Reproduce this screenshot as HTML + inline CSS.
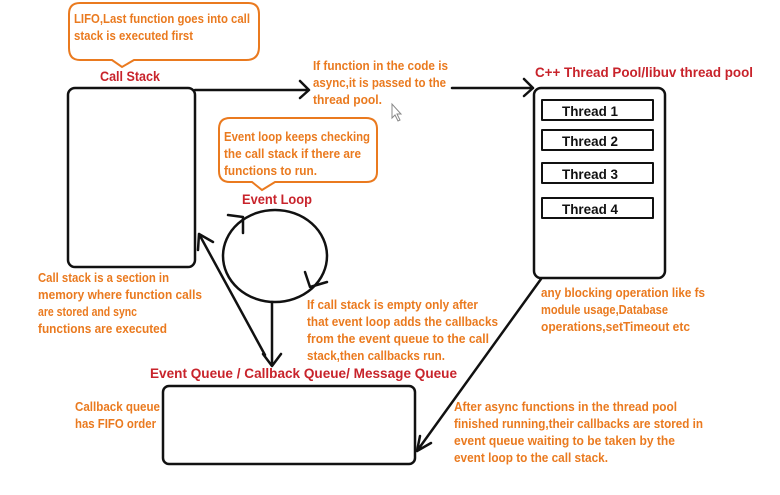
<!DOCTYPE html>
<html><head><meta charset="utf-8"><style>
html,body{margin:0;padding:0;background:#fff;}
svg{display:block;}
text{font-family:"Liberation Sans",sans-serif;font-weight:bold;}
.o{fill:#ea7a1f;font-size:12.5px;}
.r{fill:#c8232b;font-size:14px;}
.k{fill:#111;font-size:14px;}
</style></head><body>
<svg width="780" height="495" viewBox="0 0 780 495" xmlns="http://www.w3.org/2000/svg">
<g fill="none" stroke="#ea7a1f" stroke-width="2">
<path d="M80,3 H248 Q259,3 259,14 V47 Q259,60 246,60 H134 L122,67 L112,60 H80 Q69,60 69,48 V14 Q69,3 80,3 Z"/>
<path d="M230,118 H366 Q377,118 377,129 V172 Q377,182 366,182 H275 L262,190 L252,182 H230 Q219,182 219,171 V129 Q219,118 230,118 Z"/>
</g>
<g fill="none" stroke="#111" stroke-width="2.5" stroke-linecap="round" stroke-linejoin="round">
<rect x="68" y="88" width="127" height="179" rx="7"/>
<rect x="534" y="88" width="131" height="190" rx="7"/>
<rect x="542" y="100" width="111" height="20" stroke-width="2"/>
<rect x="542" y="130" width="111" height="20" stroke-width="2"/>
<rect x="542" y="163" width="111" height="20" stroke-width="2"/>
<rect x="542" y="198" width="111" height="20" stroke-width="2"/>
<rect x="163" y="386" width="252" height="78" rx="6"/>
<path d="M195,90 H308 M300,81 L309,90 L300,98"/>
<path d="M452,88 H533 M524,79 L533,88 L524,96"/>
<ellipse cx="275" cy="256" rx="52" ry="46"/>
<path d="M228,215 L243,217 L243,233"/>
<path d="M305,272 L310,287 L327,282"/>
<path d="M272,302 V365 M263,354 L272,366 L281,354"/>
<path d="M265,355 L199,234 M199,234 L198,250 M199,234 L213,242"/>
<path d="M541,279 L417,451 M417,451 L420,436 M417,451 L431,443"/>
</g>
<g lengthAdjust="spacingAndGlyphs">
<text class="o" x="74" y="23" textLength="176" lengthAdjust="spacingAndGlyphs">LIFO,Last function goes into call</text>
<text class="o" x="74" y="40" textLength="119" lengthAdjust="spacingAndGlyphs">stack is executed first</text>
<text class="r" x="100" y="81" textLength="60" lengthAdjust="spacingAndGlyphs">Call Stack</text>
<text class="o" x="313" y="70" textLength="135" lengthAdjust="spacingAndGlyphs">If function in the code is</text>
<text class="o" x="313" y="87" textLength="133" lengthAdjust="spacingAndGlyphs">async,it is passed to the</text>
<text class="o" x="313" y="104" textLength="69" lengthAdjust="spacingAndGlyphs">thread pool.</text>
<text class="r" x="535" y="77" textLength="218" lengthAdjust="spacingAndGlyphs">C++ Thread Pool/libuv thread pool</text>
<text class="k" x="562" y="116" textLength="56" lengthAdjust="spacingAndGlyphs">Thread 1</text>
<text class="k" x="562" y="146" textLength="56" lengthAdjust="spacingAndGlyphs">Thread 2</text>
<text class="k" x="562" y="179" textLength="56" lengthAdjust="spacingAndGlyphs">Thread 3</text>
<text class="k" x="562" y="214" textLength="56" lengthAdjust="spacingAndGlyphs">Thread 4</text>
<text class="o" x="224" y="141" textLength="146" lengthAdjust="spacingAndGlyphs">Event loop keeps checking</text>
<text class="o" x="224" y="158" textLength="137" lengthAdjust="spacingAndGlyphs">the call stack if there are</text>
<text class="o" x="224" y="175" textLength="93" lengthAdjust="spacingAndGlyphs">functions to run.</text>
<text class="r" x="242" y="204" textLength="70" lengthAdjust="spacingAndGlyphs">Event Loop</text>
<text class="o" x="38" y="282" textLength="131" lengthAdjust="spacingAndGlyphs">Call stack is a section in</text>
<text class="o" x="38" y="299" textLength="164" lengthAdjust="spacingAndGlyphs">memory where function calls</text>
<text class="o" x="38" y="316" textLength="99" lengthAdjust="spacingAndGlyphs">are stored and sync</text>
<text class="o" x="38" y="333" textLength="129" lengthAdjust="spacingAndGlyphs">functions are executed</text>
<text class="o" x="307" y="309" textLength="171" lengthAdjust="spacingAndGlyphs">If call stack is empty only after</text>
<text class="o" x="307" y="326" textLength="191" lengthAdjust="spacingAndGlyphs">that event loop adds the callbacks</text>
<text class="o" x="307" y="343" textLength="182" lengthAdjust="spacingAndGlyphs">from the event queue to the call</text>
<text class="o" x="307" y="360" textLength="138" lengthAdjust="spacingAndGlyphs">stack,then callbacks run.</text>
<text class="o" x="541" y="297" textLength="164" lengthAdjust="spacingAndGlyphs">any blocking operation like fs</text>
<text class="o" x="541" y="314" textLength="127" lengthAdjust="spacingAndGlyphs">module usage,Database</text>
<text class="o" x="541" y="331" textLength="149" lengthAdjust="spacingAndGlyphs">operations,setTimeout etc</text>
<text class="r" x="150" y="378" textLength="307" lengthAdjust="spacingAndGlyphs">Event Queue / Callback Queue/ Message Queue</text>
<text class="o" x="75" y="411" textLength="85" lengthAdjust="spacingAndGlyphs">Callback queue</text>
<text class="o" x="75" y="428" textLength="81" lengthAdjust="spacingAndGlyphs">has FIFO order</text>
<text class="o" x="454" y="411" textLength="223" lengthAdjust="spacingAndGlyphs">After async functions in the thread pool</text>
<text class="o" x="454" y="428" textLength="249" lengthAdjust="spacingAndGlyphs">finished running,their callbacks are stored in</text>
<text class="o" x="454" y="445" textLength="221" lengthAdjust="spacingAndGlyphs">event queue waiting to be taken by the</text>
<text class="o" x="454" y="462" textLength="154" lengthAdjust="spacingAndGlyphs">event loop to the call stack.</text>
</g>
<path d="M392,104 L392,118 L395,115 L398,121 L400,120 L397,114 L401,114 Z" fill="#fff" stroke="#888" stroke-width="1"/>
</svg>
</body></html>
